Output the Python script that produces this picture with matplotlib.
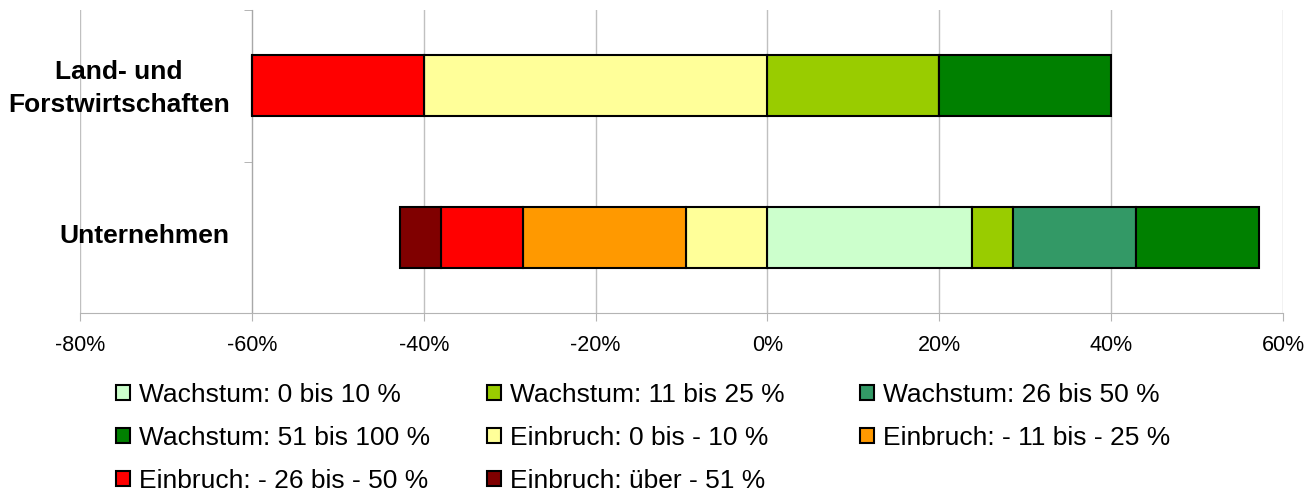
import numpy as np
import matplotlib
matplotlib.use('Agg')
import matplotlib.pyplot as plt
import matplotlib.transforms as mtransforms

plt.rcParams['font.family'] = ['Liberation Sans', 'DejaVu Sans']

categories = ['Unternehmen', 'Land- und\nForstwirtschaften']
ticks = [-80, -60, -40, -20, 0, 20, 40, 60]

# growth shares (to the right of 0)
wachstum_0_10 = [23.8, 0]
wachstum_11_25 = [4.8, 20]
wachstum_26_50 = [14.3, 0]
wachstum_51_100 = [14.3, 20]
# decline shares (to the left of 0)
einbruch_0_10 = [9.5, 40]
einbruch_11_25 = [19.0, 0]
einbruch_26_50 = [9.5, 20]
einbruch_51 = [4.8, 0]

labels = ['Wachstum: 0 bis 10 %', 'Wachstum: 11 bis 25 %', 'Wachstum: 26 bis 50 %',
          'Wachstum: 51 bis 100 %', 'Einbruch: 0 bis - 10 %', 'Einbruch: - 11 bis - 25 %',
          'Einbruch: - 26 bis - 50 %', 'Einbruch: über - 51 %']
colors = ['#CCFFCC', '#99CC00', '#339966', '#008000',
          '#FFFF99', '#FF9900', '#FF0000', '#800000']

fig = plt.figure(figsize=(13.15, 4.91), dpi=100)
ax = fig.add_axes([80 / 1315, 1 - 313 / 491, 1203 / 1315, 303 / 491])

y = np.arange(len(categories))
h = 0.4
handles = [None] * 8

pos = [wachstum_0_10, wachstum_11_25, wachstum_26_50, wachstum_51_100]
left = np.zeros(len(categories))
for i, vals in enumerate(pos):
    vals = np.array(vals, dtype=float)
    handles[i] = ax.barh(y, vals, left=left, height=h, color=colors[i],
                         edgecolor='black', linewidth=1.5, zorder=3)
    left = left + vals

neg = [einbruch_0_10, einbruch_11_25, einbruch_26_50, einbruch_51]
left = np.zeros(len(categories))
for i, vals in enumerate(neg):
    vals = np.array(vals, dtype=float)
    handles[4 + i] = ax.barh(y, -vals, left=left, height=h, color=colors[4 + i],
                             edgecolor='black', linewidth=1.5, zorder=3)
    left = left - vals

ax.set_xlim(-80, 60)
ax.set_ylim(-0.5, 1.5)
ax.set_xticks(ticks)
ax.set_xticklabels([f'{t}%' for t in ticks], fontsize=15.5)
ax.grid(axis='x', color='#c0c0c0', linewidth=1, zorder=0)

for s in ['top', 'right']:
    ax.spines[s].set_visible(False)
ax.spines['left'].set_position(('data', -60))
ax.spines['left'].set_color('#a8a8a8')
ax.spines['bottom'].set_color('#b4b4b4')
ax.spines['left'].set_zorder(2)

ax.tick_params(axis='x', length=6, color='#b4b4b4', pad=10)
ax.set_yticks(y)
ax.set_yticklabels(categories, fontsize=19, fontweight='bold', multialignment='center',
                   linespacing=1.45)
ax.tick_params(axis='y', which='major', length=0, pad=16)
ax.set_yticks([-0.5, 0.5, 1.5], minor=True)
ax.tick_params(axis='y', which='minor', length=6, color='#a8a8a8')

# nudge category labels up a little
shift = mtransforms.ScaledTranslation(0, 0.04, fig.dpi_scale_trans)
for lab in ax.get_yticklabels():
    lab.set_transform(lab.get_transform() + shift)

# legend filled row by row, three columns
xs = [116 / 1315, 487 / 1315, 860 / 1315]
for j in range(3):
    idx = list(range(j, 8, 3))
    hs = [handles[i][0] for i in idx]
    fig.legend(hs, [labels[i] for i in idx], loc='upper left',
               bbox_to_anchor=(xs[j], 1 - 383 / 491), frameon=False,
               fontsize=19, handlelength=0.52, handleheight=0.52,
               handletextpad=0.35, labelspacing=0.72, borderpad=0, borderaxespad=0)

fig.savefig('out.png', dpi=100)
